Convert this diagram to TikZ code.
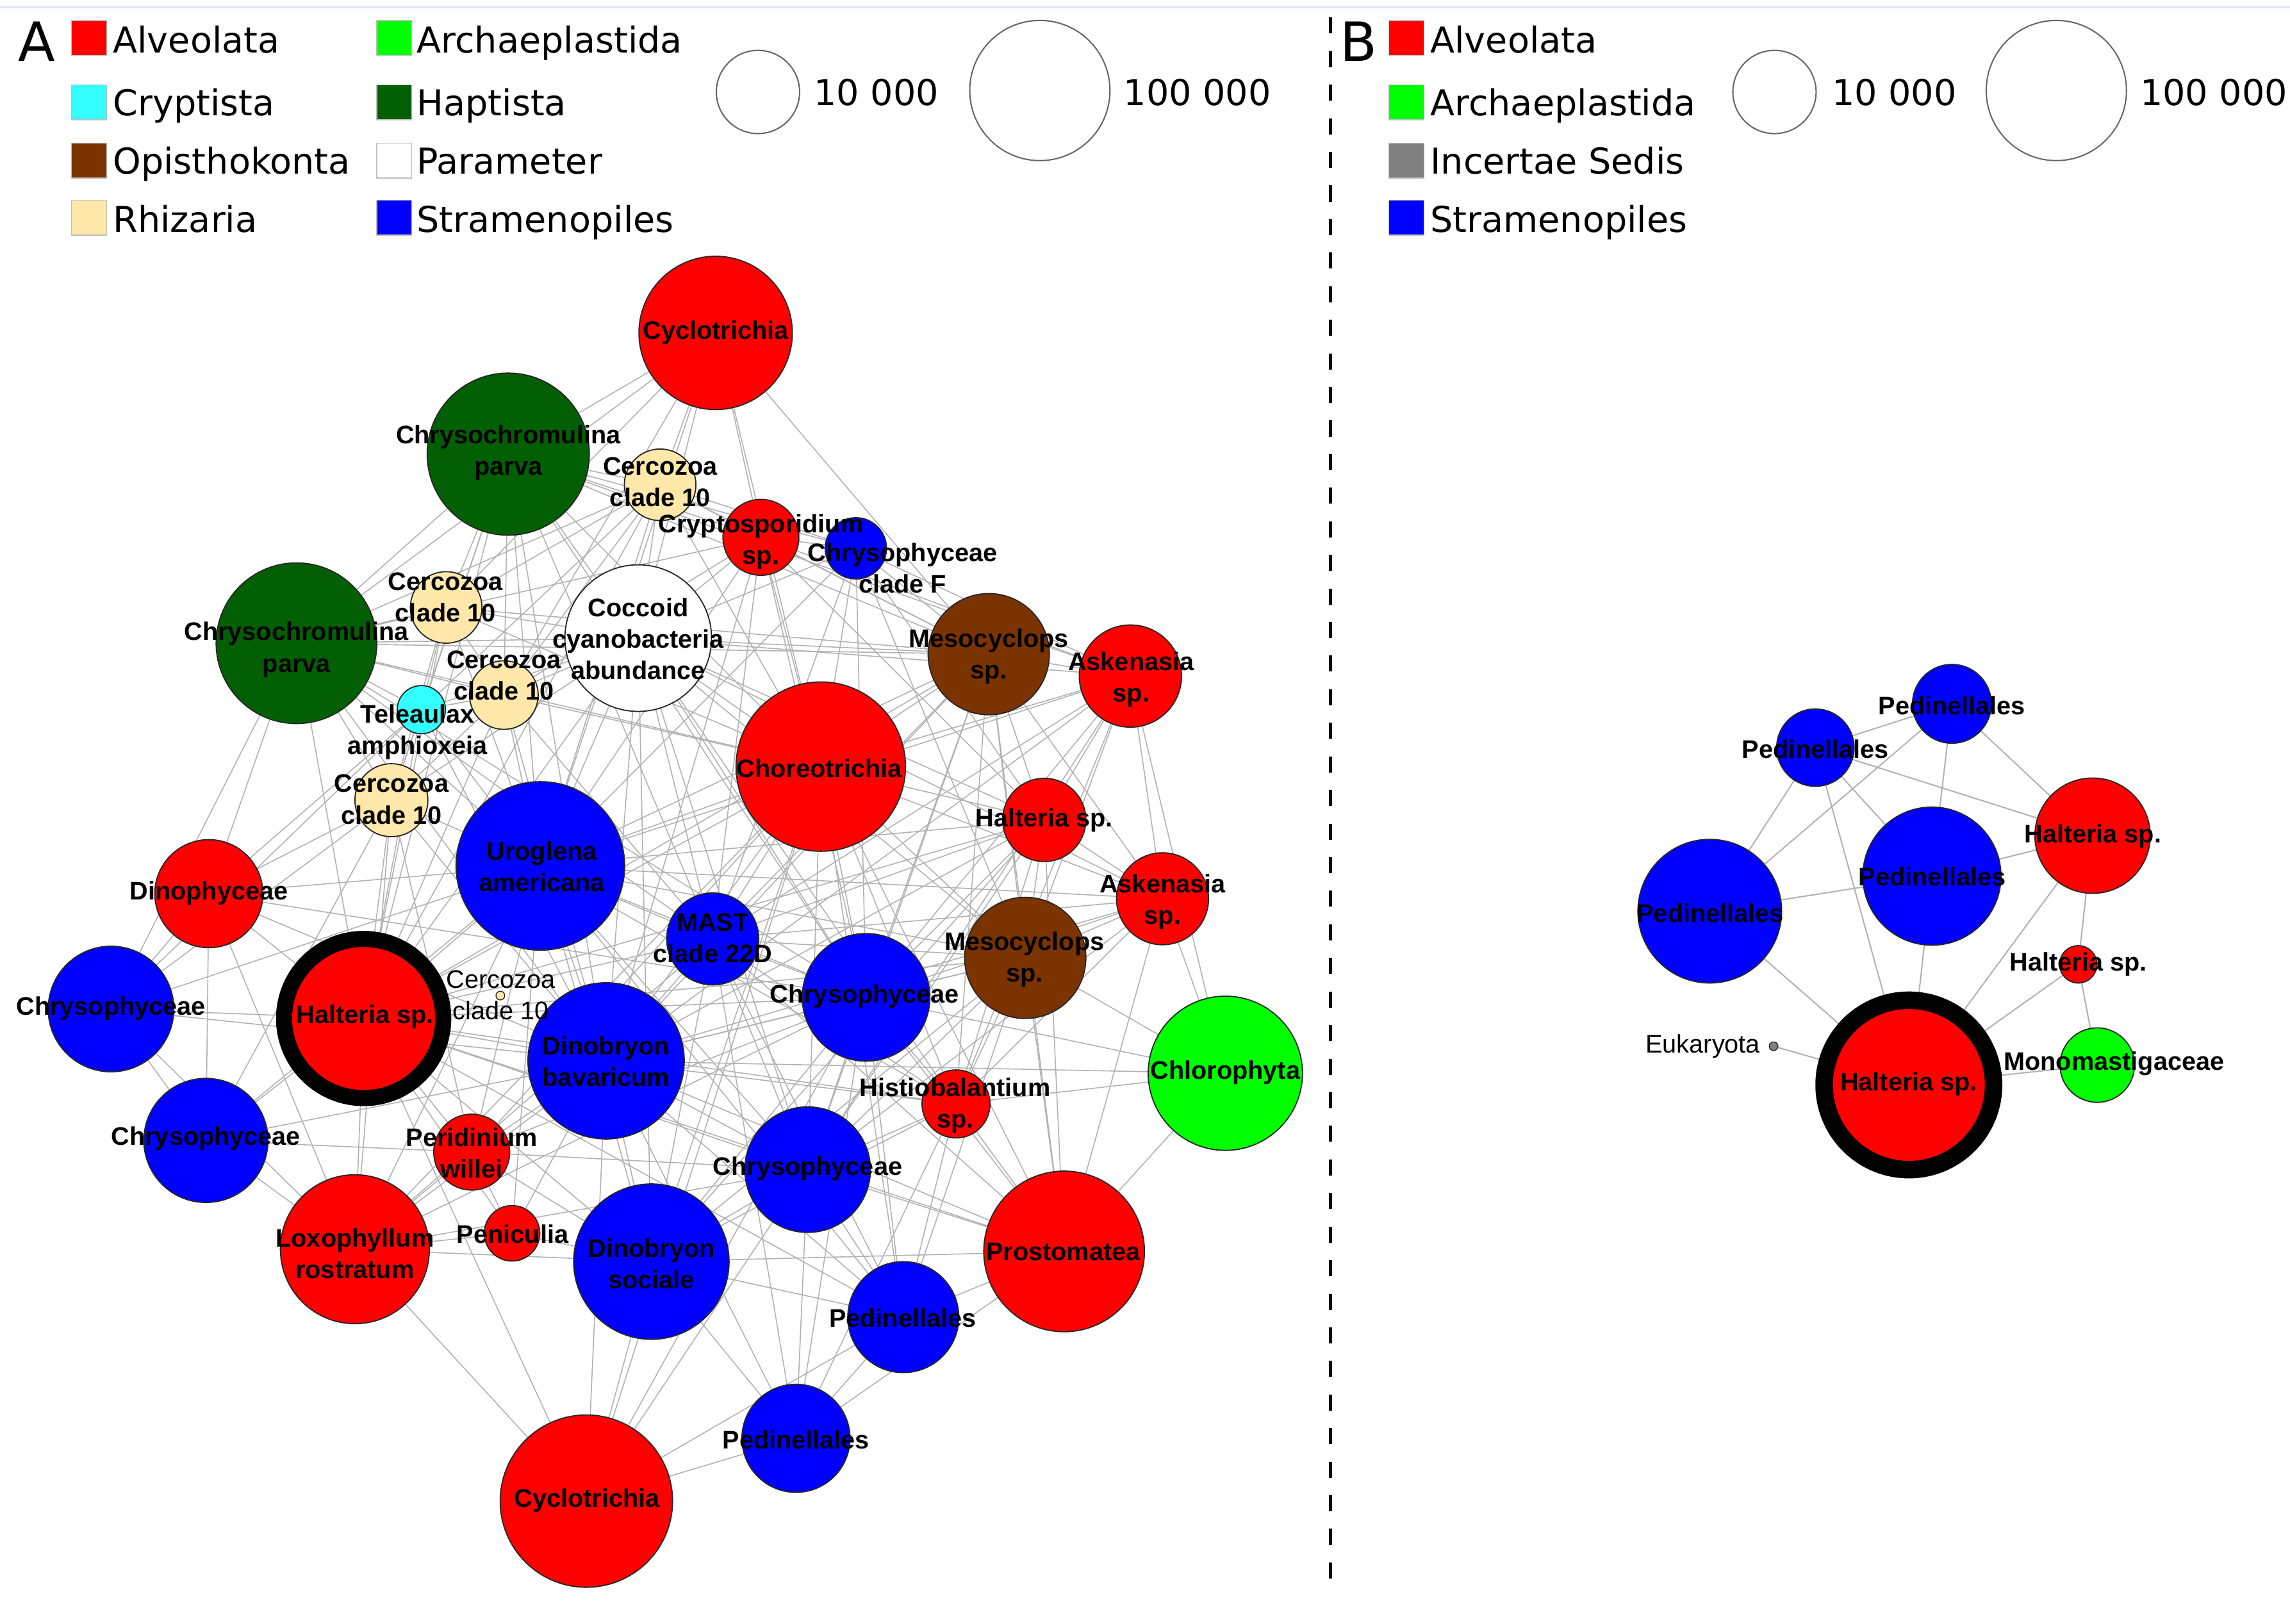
\documentclass[tikz,border=0pt]{standalone}
\usepackage{fontspec}
\setmainfont{DejaVu Sans}
\newfontfamily\netfont{Liberation Sans}
\pgfdeclarelayer{back}
\pgfdeclarelayer{bg}
\pgfsetlayers{back,bg,main}
\definecolor{cRed}{HTML}{FF0000}
\definecolor{cGreen}{HTML}{00FF00}
\definecolor{cCyan}{HTML}{33FFFF}
\definecolor{cDkgreen}{HTML}{035F03}
\definecolor{cBrown}{HTML}{7B3300}
\definecolor{cBeige}{HTML}{FFE8AA}
\definecolor{cBlue}{HTML}{0000FF}
\definecolor{cGray}{HTML}{808080}
\definecolor{cTop}{HTML}{DCE6EE}
\tikzset{
  nd/.style={circle, draw=black!85, line width=0.4pt, inner sep=0pt, minimum size=#1},
  lbl/.style={font=\netfont\bfseries\fontsize{8.7}{10.8}\selectfont, align=center, inner sep=0pt},
  lblr/.style={font=\netfont\fontsize{8.7}{10.8}\selectfont, align=center, inner sep=0pt},
  edge/.style={draw=black!30, line width=0.35pt},
  leg/.style={font=\fontsize{12.2}{14}\selectfont, anchor=base west, inner sep=0pt},
  sq/.style={draw=black!25, line width=0.3pt},
  legc/.style={draw=black!60, line width=0.45pt},
  ring/.style={circle, fill=cRed, draw=black, inner sep=0pt},
}
\begin{document}
\begin{tikzpicture}[x=0.5pt,y=-0.5pt]
\useasboundingbox (0,0) rectangle (1568,1112);
\begin{pgfonlayer}{back}
\fill[white] (0,0) rectangle (1568,1112);
\end{pgfonlayer}
\draw[cTop, line width=0.8pt] (0,5) -- (1568,5);
\draw[line width=1.3pt, dash pattern=on 5.5pt off 6pt] (911,12) -- (911,1092);

% ---------- Legend A ----------
\node[font=\fontsize{18.5}{20}\selectfont, anchor=base west, inner sep=0pt] (labA) at (12,41.7) {A};
\foreach \y/\c in {14/cRed,58/cCyan,98/cBrown,137/cBeige} \filldraw[fill=\c, sq] (49,\y) rectangle ++(24,24);
\foreach \y/\c in {14/cGreen,58/cDkgreen,98/white,137/cBlue} \filldraw[fill=\c, sq] (258,\y) rectangle ++(24,24);
\node[leg] (la1) at (77,36) {Alveolata};
\node[leg] (la2) at (77,79) {Cryptista};
\node[leg] (la3) at (77,119) {Opisthokonta};
\node[leg] (la4) at (77,159) {Rhizaria};
\node[leg] (la5) at (285,36) {Archaeplastida};
\node[leg] (la6) at (285,79) {Haptista};
\node[leg] (la7) at (285,119) {Parameter};
\node[leg] (la8) at (285,159) {Stramenopiles};
\draw[legc] (519,63) circle[radius=28.5];
\draw[legc] (712,62) circle[radius=48];
\node[leg] (la9) at (557,72) {10 000};
\node[leg] (la10) at (769,72) {100 000};

% ---------- Legend B ----------
\node[font=\fontsize{18.5}{20}\selectfont, anchor=base west, inner sep=0pt] (labB) at (917,41.7) {B};
\foreach \y/\c in {14/cRed,58/cGreen,98/cGray,137/cBlue} \filldraw[fill=\c, sq] (951,\y) rectangle ++(24,24);
\node[leg] (lb1) at (979,36) {Alveolata};
\node[leg] (lb2) at (979,79) {Archaeplastida};
\node[leg] (lb3) at (979,119) {Incertae Sedis};
\node[leg] (lb4) at (979,159) {Stramenopiles};
\draw[legc] (1215,63) circle[radius=28.5];
\draw[legc] (1408,62) circle[radius=48];
\node[leg] (lb5) at (1254,72) {10 000};
\node[leg] (lb6) at (1465,72) {100 000};

% ---------- Network A: nodes ----------
\node[nd=52.5, fill=cRed] (cycT) at (490,228) {};
\node[nd=55.5, fill=cDkgreen] (chrU) at (348,311) {};
\node[nd=24.5, fill=cBeige] (cerT) at (452,332) {};
\node[nd=26, fill=cRed] (cryp) at (521,368) {};
\node[nd=21, fill=cBlue] (chrF) at (586,375.5) {};
\node[nd=55, fill=cDkgreen] (chrL) at (203,440.5) {};
\node[nd=24.5, fill=cBeige] (cerL) at (305.5,416) {};
\node[nd=50.2, fill=white] (coc) at (437,437) {};
\node[nd=23.5, fill=cBeige] (cerM) at (345,476) {};
\node[nd=16.5, fill=cCyan] (tel) at (288.5,486) {};
\node[nd=25, fill=cBeige] (cerB) at (268,548) {};
\node[nd=41.5, fill=cBrown] (mesU) at (677,448) {};
\node[nd=35, fill=cRed] (askU) at (774,463) {};
\node[nd=58, fill=cRed] (cho) at (562,525) {};
\node[nd=28.5, fill=cRed] (halR) at (715,561.5) {};
\node[nd=31.5, fill=cRed] (askL) at (796,615.5) {};
\node[nd=57.7, fill=cBlue] (uro) at (370,593) {};
\node[nd=37, fill=cRed] (dino) at (143,612) {};
\node[nd=31.5, fill=cBlue] (mast) at (488,643) {};
\node[nd=41.5, fill=cBrown] (mesL) at (702,656) {};
\node[nd=43.7, fill=cBlue] (chyC) at (593,683) {};
\node[nd=43, fill=cBlue] (chyL) at (76,691) {};
\node[ring, line width=5.5pt, minimum size=54.5] (halB) at (249,697.5) {};
\node[nd=3, fill=cBeige, line width=0.3pt] (cerS) at (342.6,681.8) {};
\node[nd=53.5, fill=cBlue] (dbav) at (415,726.5) {};
\node[nd=52.8, fill=cGreen] (chl) at (839,735) {};
\node[nd=23.3, fill=cRed] (hist) at (654.6,756) {};
\node[nd=42.5, fill=cBlue] (chyLL) at (141,781) {};
\node[nd=26, fill=cRed] (peri) at (323,789) {};
\node[nd=43, fill=cBlue] (chyLo) at (553,801) {};
\node[nd=51, fill=cRed] (lox) at (243,855.5) {};
\node[nd=19, fill=cRed] (pen) at (350.6,844.6) {};
\node[nd=53.2, fill=cBlue] (dsoc) at (446,864) {};
\node[nd=55, fill=cRed] (pros) at (728.6,857) {};
\node[nd=38, fill=cBlue] (pedU) at (618.5,902) {};
\node[nd=37, fill=cBlue] (pedL) at (545,985) {};
\node[nd=59, fill=cRed] (cycB) at (401.5,1028) {};

% ---------- Network B: nodes ----------
\node[nd=27, fill=cBlue] (bPedT) at (1336.5,482) {};
\node[nd=26.5, fill=cBlue] (bPedS) at (1243,512) {};
\node[nd=47.3, fill=cBlue] (bPedM) at (1322.8,600) {};
\node[nd=49.2, fill=cBlue] (bPedB) at (1170.7,624) {};
\node[nd=39.5, fill=cRed] (bHalR) at (1432.8,572.3) {};
\node[nd=12.8, fill=cRed] (bHalS) at (1423,660.4) {};
\node[nd=3, fill=cGray, line width=0.3pt] (bEuk) at (1214.4,716.5) {};
\node[ring, line width=6pt, minimum size=58] (bHalB) at (1307,743) {};
\node[nd=25.5, fill=cGreen] (bMono) at (1436,729.4) {};

% ---------- Edges ----------
\begin{pgfonlayer}{bg}
\foreach \a/\b in {cycT/chrU, cycT/chrL, cycT/coc, cycT/cerT, cycT/cryp, cycT/cho, cycT/uro, cycT/cerL, cycT/cerM, cycT/mesU,
chrU/chrL, chrU/cerT, chrU/cerL, chrU/cerM, chrU/coc, chrU/tel, chrU/cerB, chrU/uro, chrU/cho, chrU/cryp, chrU/chrF, chrU/mesU, chrU/halB, chrU/dbav, chrU/chyC, chrU/mast, chrU/askU,
cerT/coc, cerT/cryp, cerT/chrL, cerT/cerL, cerT/cerM, cerT/uro, cerT/cho, cerT/mesU, cerT/chrF, cerT/halB, cerT/tel,
cryp/coc, cryp/chrF, cryp/cho, cryp/mesU, cryp/askU, cryp/chrL, cryp/uro, cryp/cerM, cryp/halR, cryp/mast, cryp/chyC, cryp/dbav,
chrF/coc, chrF/cho, chrF/mesU, chrF/askU, chrF/halR, chrF/mesL, chrF/uro, chrF/mast, chrF/chyC,
chrL/cerL, chrL/cerM, chrL/tel, chrL/coc, chrL/cerB, chrL/uro, chrL/dino, chrL/chyL, chrL/halB, chrL/mesU, chrL/cho, chrL/dbav, chrL/mast, chrL/chyC,
cerL/coc, cerL/cerM, cerL/tel, cerL/cerB, cerL/uro, cerL/halB, cerL/cho, cerL/mesU,
coc/cerM, coc/tel, coc/cerB, coc/uro, coc/cho, coc/mesU, coc/askU, coc/halR, coc/mast, coc/dbav, coc/chyC, coc/halB, coc/mesL, coc/askL, coc/chyLo, coc/dsoc, coc/hist,
cerM/tel, cerM/cerB, cerM/uro, cerM/halB, cerM/cho, cerM/mast, cerM/dbav,
tel/cerB, tel/uro, tel/halB, tel/dino, tel/dbav, tel/chyL,
cerB/uro, cerB/halB, cerB/dino, cerB/chyL, cerB/dbav, cerB/chyLL, cerB/peri, cerB/lox,
mesU/askU, mesU/cho, mesU/halR, mesU/askL, mesU/mesL, mesU/uro, mesU/mast, mesU/chyC, mesU/dbav, mesU/chyLo, mesU/halB, mesU/pros, mesU/hist,
askU/cho, askU/halR, askU/askL, askU/mesL, askU/uro, askU/mast, askU/chyC, askU/chl, askU/dbav, askU/chyLo, askU/hist,
cho/halR, cho/askL, cho/uro, cho/mast, cho/mesL, cho/chyC, cho/dbav, cho/halB, cho/chyLo, cho/hist, cho/dsoc, cho/pros, cho/pedU, cho/lox, cho/peri, cho/cycB,
halR/askL, halR/mesL, halR/uro, halR/mast, halR/chyC, halR/dbav, halR/halB, halR/chyLo, halR/pros, halR/hist, halR/dsoc,
askL/mesL, askL/chl, askL/chyC, askL/mast, askL/dbav, askL/pros, askL/uro, askL/chyLo, askL/hist,
uro/mast, uro/dino, uro/chyL, uro/halB, uro/dbav, uro/chyC, uro/mesL, uro/chyLL, uro/peri, uro/lox, uro/dsoc, uro/chyLo, uro/pen, uro/hist, uro/pedU,
dino/chyL, dino/chyLL, dino/halB, dino/lox, dino/dbav, dino/chyC,
mast/mesL, mast/chyC, mast/dbav, mast/halB, mast/chyLo, mast/dsoc, mast/hist, mast/pros, mast/pedU, mast/pedL, mast/lox,
mesL/chyC, mesL/dbav, mesL/chl, mesL/hist, mesL/pros, mesL/chyLo, mesL/dsoc, mesL/pedU, mesL/halB,
chyC/dbav, chyC/halB, chyC/hist, chyC/chyLo, chyC/dsoc, chyC/pros, chyC/pedU, chyC/pedL, chyC/chl, chyC/lox, chyC/peri, chyC/cycB,
chyL/halB, chyL/chyLL, chyL/dbav, chyL/lox,
halB/dbav, halB/chyLL, halB/peri, halB/lox, halB/pen, halB/dsoc, halB/chyLo, halB/hist, halB/cycB, halB/pedU, halB/pros,
dbav/chl, dbav/hist, dbav/chyLL, dbav/peri, dbav/lox, dbav/pen, dbav/dsoc, dbav/chyLo, dbav/pros, dbav/pedU, dbav/pedL, dbav/cycB,
chl/pros, chl/hist,
hist/chyLo, hist/pros, hist/pedU, hist/pedL, hist/dsoc,
chyLL/lox, chyLL/peri,
peri/lox, peri/dsoc, peri/chyLo, peri/pen,
chyLo/dsoc, chyLo/pros, chyLo/pedU, chyLo/pedL, chyLo/cycB, chyLo/lox,
lox/pen, lox/dsoc, lox/cycB,
pen/dsoc,
dsoc/pros, dsoc/pedU, dsoc/pedL, dsoc/cycB,
pros/pedU, pros/pedL,
pedU/pedL, pedU/cycB,
pedL/cycB}
  \draw[edge] (\a) -- (\b);
\foreach \a/\b in {bPedT/bPedS, bPedT/bPedB, bPedT/bPedM, bPedT/bHalR, bPedS/bPedB, bPedS/bPedM, bPedS/bHalR, bPedS/bHalB, bPedB/bPedM, bPedB/bHalB, bPedM/bHalR, bPedM/bHalB, bHalR/bHalB, bHalR/bHalS, bHalS/bHalB, bHalS/bMono, bHalB/bMono, bHalB/bEuk}
  \draw[edge, line width=0.45pt] (\a) -- (\b);
\end{pgfonlayer}

% ---------- Labels A ----------
\node[lbl] (t-cycT) at (490,228) {Cyclotrichia};
\node[lbl] (t-chrU) at (348,310) {Chrysochromulina\\parva};
\node[lbl] (t-cerT) at (452,330) {Cercozoa\\clade 10};
\node[lbl] (t-cryp) at (521,371) {Cryptosporidium\\sp.};
\node[lbl] (t-chrF) at (618,389) {Chrysophyceae\\clade F};
\node[lbl] (t-chrL) at (203,445) {Chrysochromulina\\parva};
\node[lbl] (t-cerL) at (305,409) {Cercozoa\\clade 10};
\node[lbl] (t-coc) at (437,437.5) {Coccoid\\cyanobacteria\\abundance};
\node[lbl] (t-cerM) at (345,462.5) {Cercozoa\\clade 10};
\node[lbl] (t-tel) at (286,501.5) {Teleaulax\\amphioxeia};
\node[lbl] (t-cerB) at (268,547.5) {Cercozoa\\clade 10};
\node[lbl] (t-mesU) at (677,449.5) {Mesocyclops\\sp.};
\node[lbl] (t-askU) at (774.5,465.5) {Askenasia\\sp.};
\node[lbl] (t-cho) at (561,526) {Choreotrichia};
\node[lbl] (t-halR) at (715,561.5) {Halteria sp.};
\node[lbl] (t-askL) at (796,617.5) {Askenasia\\sp.};
\node[lbl] (t-uro) at (371,593.5) {Uroglena\\americana};
\node[lbl] (t-dino) at (143,611.5) {Dinophyceae};
\node[lbl] (t-mast) at (488,642.5) {MAST\\clade 22D};
\node[lbl] (t-mesL) at (701.5,657) {Mesocyclops\\sp.};
\node[lbl] (t-chyC) at (592,682.5) {Chrysophyceae};
\node[lbl] (t-chyL) at (76,690.5) {Chrysophyceae};
\node[lbl] (t-halB) at (250,696.5) {Halteria sp.};
\node[lblr] (t-cerS) at (343,681.5) {Cercozoa\\clade 10};
\node[lbl] (t-dbav) at (415,727) {Dinobryon\\bavaricum};
\node[lbl] (t-chl) at (839,734.5) {Chlorophyta};
\node[lbl] (t-hist) at (654,757) {Histiobalantium\\sp.};
\node[lbl] (t-chyLL) at (141,779.5) {Chrysophyceae};
\node[lbl] (t-peri) at (323,789.5) {Peridinium\\willei};
\node[lbl] (t-chyLo) at (553,800.5) {Chrysophyceae};
\node[lbl] (t-lox) at (243,858.5) {Loxophyllum\\rostratum};
\node[lbl] (t-pen) at (351,845) {Peniculia};
\node[lbl] (t-dsoc) at (446,865.5) {Dinobryon\\sociale};
\node[lbl] (t-pros) at (728,857.5) {Prostomatea};
\node[lbl] (t-pedU) at (618,902.5) {Pedinellales};
\node[lbl] (t-pedL) at (545,986) {Pedinellales};
\node[lbl] (t-cycB) at (402,1027.5) {Cyclotrichia};

% ---------- Labels B ----------
\node[lbl] (t-bPedT) at (1336.5,483) {Pedinellales};
\node[lbl] (t-bPedS) at (1243,513) {Pedinellales};
\node[lbl] (t-bPedM) at (1323,600.5) {Pedinellales};
\node[lbl] (t-bPedB) at (1171,625.5) {Pedinellales};
\node[lbl] (t-bHalR) at (1433,572.5) {Halteria sp.};
\node[lbl] (t-bHalS) at (1423,660.5) {Halteria sp.};
\node[lbl] (t-bHalB) at (1307,742.5) {Halteria sp.};
\node[lblr] (t-bEuk) at (1166,716.5) {Eukaryota};
\node[lbl] (t-bMono) at (1447.5,728.5) {Monomastigaceae};
\end{tikzpicture}
\end{document}
